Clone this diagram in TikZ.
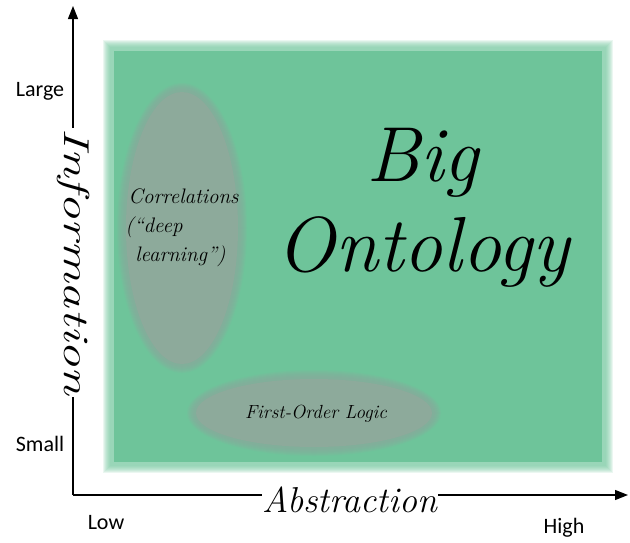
\documentclass[tikz,border=0pt]{standalone}
\usepackage{fontspec}
\newfontfamily\labelfont{Carlito}
\usetikzlibrary{arrows.meta}
\definecolor{bggreen}{HTML}{6EC49A}
\definecolor{blobgray}{HTML}{8DAA9B}
\tikzset{
  axis/.style={line width=1.3pt,-{Triangle[length=13pt,width=10pt]}},
  ticklabel/.style={font=\labelfont\fontsize{22}{24}\selectfont,inner sep=0pt},
  axistitle/.style={font=\itshape\fontsize{36}{40}\selectfont,fill=white,inner sep=1pt},
  blobtext/.style={font=\itshape\fontsize{21}{29}\selectfont,inner sep=0pt,align=left}
}
\begin{document}
\begin{tikzpicture}[x=1pt,y=-1pt]
\useasboundingbox (0,0) rectangle (630,542);
% soft green field
\foreach \d in {7,6,...,0}{
  \fill[bggreen,opacity=0.14] (110-\d,47-\d) rectangle (606+\d,466+\d);
}
\fill[bggreen] (114,51) rectangle (602,462);
% soft gray ellipses
\foreach \d in {7,6,...,0}{
  \fill[blobgray,opacity=0.14] (182,228) ellipse ({58+\d} and {138+\d});
  \fill[blobgray,opacity=0.14] (314,413) ellipse ({120+\d} and {36+\d});
}
\fill[blobgray] (182,228) ellipse (56 and 136) coordinate (corr);
\fill[blobgray] (314,413) ellipse (118 and 34) coordinate (fol);
% axes
\coordinate (origin) at (73,495);
\coordinate (ytip) at (73,6);
\coordinate (xtip) at (628,495);
\draw[axis] (origin) -- (ytip);
\draw[axis] (origin) -- (xtip);
\node[axistitle,rotate=-90] (info) at (73,262) {\scalebox{1.45}[1]{Information}};
\node[axistitle] (abs) at (350,500) {Abstraction};
% tick labels
\node[ticklabel] (large) at (40,91) {Large};
\node[ticklabel] (small) at (40,444) {Small};
\node[ticklabel] (low) at (106,523) {Low};
\node[ticklabel] (high) at (564,528) {High};
% texts
\node[blobtext] (corrtext) at (182,228) {\hspace*{3pt}Correlations\\(``deep\\\hspace*{10pt}learning'')};
\node[blobtext] (foltext) at (316,414) {\fontsize{19}{22}\selectfont First-Order Logic};
\node[font=\itshape\fontsize{78}{90}\selectfont,align=center,inner sep=0pt] (big) at (423,208) {Big\\Ontology};
\end{tikzpicture}
\end{document}
